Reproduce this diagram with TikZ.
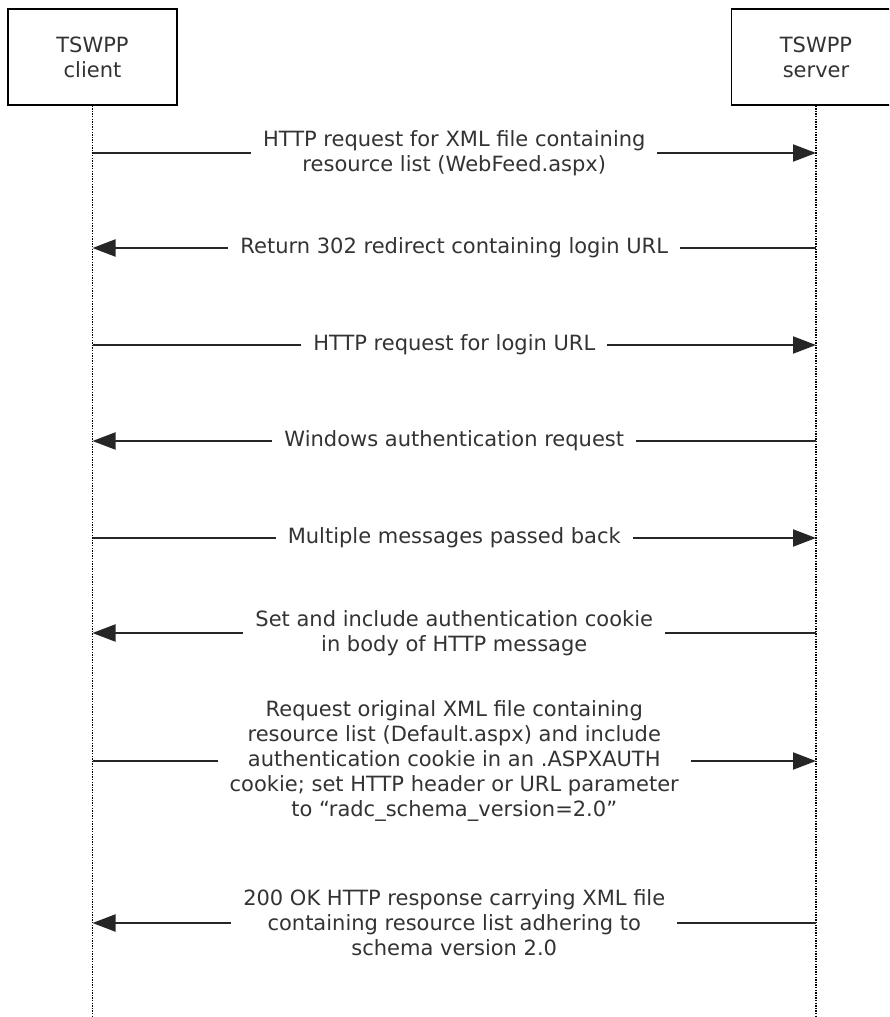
\documentclass[tikz,border=0pt]{standalone}
\usepackage{fontspec}
\setmainfont{DejaVu Sans}
\usetikzlibrary{arrows.meta}
\begin{document}
\begin{tikzpicture}[x=1pt,y=-1pt,
  actor/.style={draw=black,line width=1.3pt,fill=white,minimum width=169pt,minimum height=96pt,
    align=center,inner sep=0pt,font=\fontsize{21}{25}\selectfont,text=black!80},
  lifeline/.style={draw=black,line width=1.4pt,dash pattern=on 1.3pt off 1.3pt},
  msg/.style={draw=black!85,line width=2pt,-{Triangle[length=23pt,width=17pt]}},
  lbl/.style={fill=white,align=center,inner xsep=12pt,inner ysep=1pt,
    font=\fontsize{21}{25}\selectfont,text=black!80}]
\clip (0,0) rectangle (889,1017);
\fill[white] (0,0) rectangle (889,1017);
\node[actor] (client) at (92.5,57) {TSWPP\\client};
\node[actor] (server) at (816,57) {TSWPP\\server};
\coordinate (cend) at (92.5,1017);
\coordinate (send) at (816,1017);
\draw[lifeline] (client.south) -- (cend);
\draw[lifeline] (server.south) -- (send);
% message anchor points
\coordinate (c1) at (92.5,153); \coordinate (s1) at (816,153);
\coordinate (c2) at (92.5,248); \coordinate (s2) at (816,248);
\coordinate (c3) at (92.5,345); \coordinate (s3) at (816,345);
\coordinate (c4) at (92.5,441); \coordinate (s4) at (816,441);
\coordinate (c5) at (92.5,538); \coordinate (s5) at (816,538);
\coordinate (c6) at (92.5,633); \coordinate (s6) at (816,633);
\coordinate (c7) at (92.5,761); \coordinate (s7) at (816,761);
\coordinate (c8) at (92.5,923); \coordinate (s8) at (816,923);
\draw[msg] (c1) -- node[lbl] {HTTP request for XML file containing\\resource list (WebFeed.aspx)} (s1);
\draw[msg] (s2) -- node[lbl] {Return 302 redirect containing login URL} (c2);
\draw[msg] (c3) -- node[lbl] {HTTP request for login URL} (s3);
\draw[msg] (s4) -- node[lbl] {Windows authentication request} (c4);
\draw[msg] (c5) -- node[lbl] {Multiple messages passed back} (s5);
\draw[msg] (s6) -- node[lbl] {Set and include authentication cookie\\in body of HTTP message} (c6);
\draw[msg] (c7) -- node[lbl] {Request original XML file containing\\resource list (Default.aspx) and include\\authentication cookie in an .ASPXAUTH\\cookie; set HTTP header or URL parameter\\to “radc\_schema\_version=2.0”} (s7);
\draw[msg] (s8) -- node[lbl] {200 OK HTTP response carrying XML file\\containing resource list adhering to\\schema version 2.0} (c8);
\end{tikzpicture}
\end{document}
